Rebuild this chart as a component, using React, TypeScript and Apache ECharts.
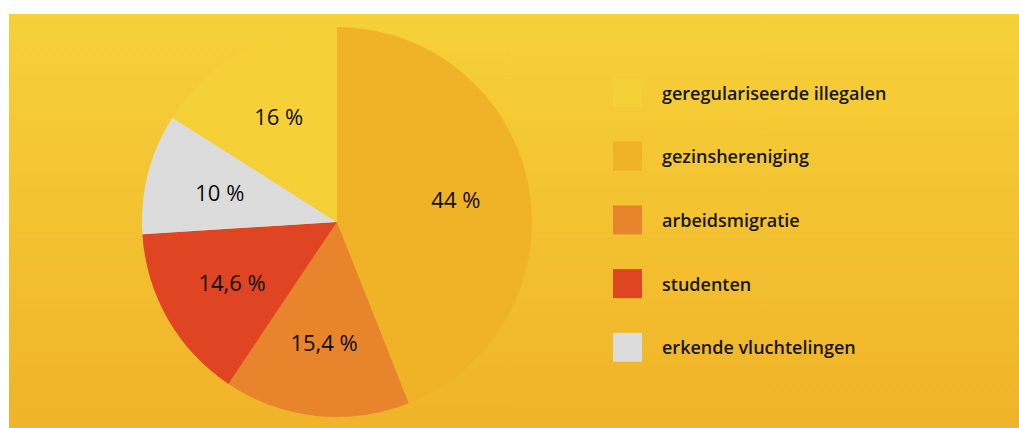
import React, { useEffect, useRef } from "react";
import * as echarts from "echarts";

const categories = [
  "gezinshereniging",
  "arbeidsmigratie",
  "studenten",
  "erkende vluchtelingen",
  "geregulariseerde illegalen",
];
const values = [44, 15.4, 14.6, 10, 16];
const valueLabels = ["44 %", "15,4 %", "14,6 %", "10 %", "16 %"];
const colors = ["#f0b328", "#e8852c", "#e04523", "#dcdcdc", "#f6d037"];
const legendOrder = [
  "geregulariseerde illegalen",
  "gezinshereniging",
  "arbeidsmigratie",
  "studenten",
  "erkende vluchtelingen",
];

export default function App() {
  const ref = useRef<HTMLDivElement>(null);
  useEffect(() => {
    document.body.style.margin = "0";
    const chart = echarts.init(ref.current!, null, { renderer: "svg" });
    const data = categories.map((name, i) => ({
      name,
      value: values[i],
      itemStyle: { color: colors[i] },
    }));
    const labelData = categories.map((name, i) => ({
      name,
      value: values[i],
      label: { formatter: valueLabels[i] },
    }));
    chart.setOption({
      animation: false,
      graphic: [
        {
          type: "rect",
          z: -10,
          shape: { x: 9, y: 14, width: 1010, height: 414 },
          style: {
            fill: new echarts.graphic.LinearGradient(0, 0, 0, 1, [
              { offset: 0, color: "#f6d139" },
              { offset: 1, color: "#f0b329" },
            ]),
          },
          silent: true,
        },
      ],
      legend: {
        orient: "vertical",
        left: 608,
        top: 73,
        itemWidth: 29,
        itemHeight: 29,
        itemGap: 34.7,
        icon: "rect",
        data: legendOrder,
        selectedMode: false,
        textStyle: {
          fontFamily: "Open Sans",
          fontWeight: 600,
          fontSize: 18,
          color: "#161616",
          padding: [0, 0, 0, 15],
        },
      },
      series: [
        {
          type: "pie",
          center: [337, 222],
          radius: 195,
          startAngle: 90,
          clockwise: true,
          data,
          label: { show: false },
          labelLine: { show: false },
          itemStyle: { borderWidth: 0 },
          emphasis: { disabled: true },
        },
        {
          type: "pie",
          center: [337, 222],
          radius: 236,
          startAngle: 90,
          clockwise: true,
          silent: true,
          data: labelData,
          itemStyle: { color: "rgba(0,0,0,0)", borderWidth: 0 },
          label: {
            show: true,
            position: "inside",
            fontFamily: "Open Sans",
            fontWeight: 500,
            fontSize: 22,
            color: "#0d0d0d",
          },
          labelLine: { show: false },
          emphasis: { disabled: true },
        },
      ],
    });
    return () => chart.dispose();
  }, []);
  return <div ref={ref} style={{ width: 1019, height: 428 }} />;
}
